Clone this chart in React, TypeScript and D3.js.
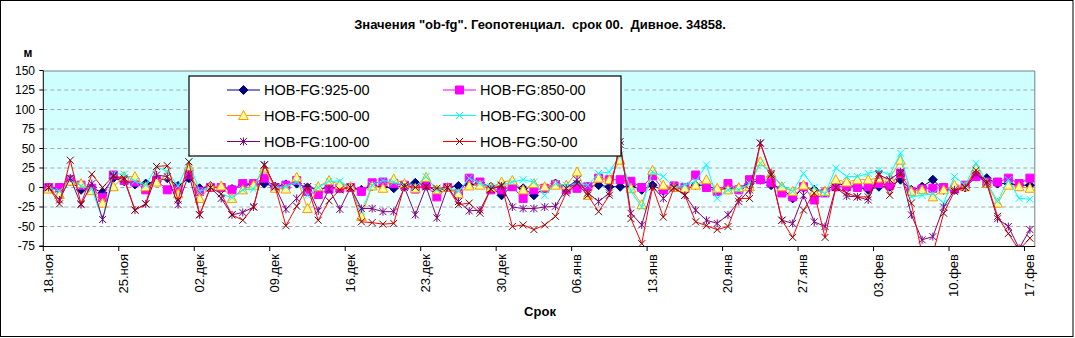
import React, { useEffect } from "react";
import * as d3 from "d3";

const title = 'Значения "ob-fg". Геопотенциал.  срок 00.  Дивное. 34858.';
const yUnit = "м";
const xTitle = "Срок";
const tickLabels = ["18.ноя", "25.ноя", "02.дек", "09.дек", "16.дек", "23.дек", "30.дек", "06.янв", "13.янв", "20.янв", "27.янв", "03.фев", "10.фев", "17.фев"];
const yTicks = [-75, -50, -25, 0, 25, 50, 75, 100, 125, 150];

const s925 = [0, -3, 8, -3, 0, -7, 12, 8, 4, 5, 8, 12, 2, 12, -1, 2, 0, -2, 3, 4, 5, 1, 4, 5, 0, -2, 0, -1, 0, -3, 2, 1, -1, 3, 6, 3, -5, 0, 2, 3, 6, 1, -10, 2, -1, -10, -1, 5, 1, 3, 1, 3, 1, 1, 2, -3, 3, -4, 0, -2, 3, 3, -3, -1, -1, 5, 10, 3, -1, -14, 0, -3, -5, 5, 3, 1, -3, 1, 1, 10, -3, 1, 10, -3, -3, 0, 14, 12, 5, 5, 3, 3];
const s850 = [0, 0, 10, 3, -1, -13, 16, 9, 7, -3, 9, -3, -3, 17, -5, 0, 0, -3, 5, 5, 12, 0, 3, 9, -5, -9, -2, -1, 0, -5, 6, 7, 5, 3, -2, 3, -12, 0, -8, 12, 7, -3, -3, 1, -14, -3, -1, 4, -3, -1, 1, 12, 10, 10, 8, 0, 15, -3, 2, 0, 16, 0, -5, 5, -3, 10, 10, 6, -7, -12, 1, -16, -7, 1, 1, 0, 1, 5, 3, 18, -5, -2, -1, 0, -2, 3, 14, 7, 7, 12, 5, 12];
const s500 = [-2, -9, 8, 5, -4, -20, 1, 14, 14, 1, 7, 16, -8, 27, -14, 1, 2, -14, -3, 3, 25, -1, -2, 13, -27, 1, 9, 4, 1, -37, 2, -1, 11, 5, -1, 13, -3, 0, -8, 2, 3, 0, 7, 9, -3, 5, 1, 3, 3, 20, -10, 12, 10, 35, -1, -22, 22, 3, 0, -1, 3, 10, -1, -3, 0, 1, 33, 18, 1, -5, 3, -5, -5, 10, 7, 10, 10, 12, 12, 35, -5, -3, -12, -3, 3, 1, 25, 5, -20, 3, 1, -1];
const s300 = [0, -5, 10, 2, -2, -41, 18, 17, 8, 3, 27, 20, 2, 33, -5, 0, -8, -13, -3, -2, 29, 0, 1, 7, -10, 0, 8, 8, 0, -31, 3, 9, 7, 3, 1, 14, -3, 0, -5, 12, 5, 1, 3, 7, 10, 7, -10, 5, 3, 5, 3, 18, 20, 42, -5, -25, 20, 14, 0, 3, 8, 29, -14, -3, -3, 5, 31, 18, 3, -5, 18, 0, -8, 25, 14, 14, 18, 22, 16, 44, -12, -10, -8, -20, 14, 3, 31, 7, -18, 10, -14, -15];
const s100 = [0, -16, 12, -22, 5, -41, 14, 10, -29, -21, 16, 14, -22, 17, -35, 0, -14, -35, -32, -25, 29, 1, -28, -14, 1, -30, -2, -28, 0, -27, -27, -31, -31, 0, -35, 1, -39, 0, -18, -30, -29, -2, 2, -25, -27, -27, -25, -24, -1, 10, -7, -18, -7, 55, -33, -48, 1, -14, 0, -10, -29, -42, -46, -35, -18, -3, 57, 18, -42, -46, -10, -44, -50, 0, -11, -12, -16, 16, 10, 20, -35, -67, -63, -25, -3, 0, 18, 5, -40, -50, -78, -54];
const s50 = [0, -21, 35, -21, 17, 0, 15, 12, -29, -21, 27, 28, -16, 33, -35, 0, -8, -35, -42, -25, 29, 1, -49, -24, 1, -42, -17, -3, 0, -44, -45, -47, -46, 3, 0, 1, -1, 0, -22, -20, -33, -2, 3, -50, -48, -54, -48, -37, -7, 5, -10, -31, -10, 59, -40, -72, 1, -38, 0, -10, -44, -49, -54, -50, -14, -14, 57, 16, -42, -64, -29, -7, -64, 0, -7, -12, -12, 18, -10, 18, -20, -85, -85, -33, -5, 0, 22, 7, -37, -59, -80, -65];

const seriesNames = ["HOB-FG:925-00", "HOB-FG:850-00", "HOB-FG:500-00", "HOB-FG:300-00", "HOB-FG:100-00", "HOB-FG:50-00"];
const seriesValues = [s925, s850, s500, s300, s100, s50];

type Style = { line: string; fill: string; stroke: string; kind: string };
const styles: Style[] = [
  { line: "#000080", fill: "#000080", stroke: "#000080", kind: "diamond" },
  { line: "#FF00FF", fill: "#FF00FF", stroke: "#FF00FF", kind: "square" },
  { line: "#FF9900", fill: "#FFFF99", stroke: "#FF9900", kind: "triangle" },
  { line: "#00FFFF", fill: "none", stroke: "#00FFFF", kind: "x" },
  { line: "#800080", fill: "none", stroke: "#800080", kind: "star" },
  { line: "#FF0000", fill: "none", stroke: "#800000", kind: "x" },
];

function markerPath(kind: string): string {
  switch (kind) {
    case "diamond":
      return "M0,-4.5L4.5,0L0,4.5L-4.5,0Z";
    case "square":
      return "M-4,-4H4V4H-4Z";
    case "triangle":
      return "M0,-5L4.8,4L-4.8,4Z";
    case "x":
      return "M-3.5,-3.5L3.5,3.5M-3.5,3.5L3.5,-3.5";
    case "star":
      return "M-3.5,-3.5L3.5,3.5M-3.5,3.5L3.5,-3.5M0,-4L0,4";
  }
  return "";
}

const W = 1075;
const H = 338;
const plotL = 43.3;
const plotR = 1035.3;
const plotT = 70.5;
const plotB = 246;

export default function App() {
  useEffect(() => {
    document.body.style.margin = "0";
  }, []);

  const n = s925.length;
  const idx = d3.range(n);
  const x = d3.scaleBand<number>().domain(idx).range([plotL, plotR]).padding(0);
  const bw = x.bandwidth();
  const cx = (i: number) => (x(i) as number) + bw / 2;
  const y = d3.scaleLinear().domain([-75, 150]).range([plotB, plotT]);

  const line = d3
    .line<number>()
    .x((_, i) => cx(i))
    .y((v) => y(v));

  const font = "Arial, 'Liberation Sans', sans-serif";

  const legendX = 189;
  const legendY = 76;
  const legendW = 432;
  const legendH = 80;
  const rowY = [90, 115.5, 141.5];
  const colX = [227, 443];

  return (
    <svg width={W} height={H} style={{ position: "absolute", left: 0, top: 0, display: "block", background: "#fff" }} fontFamily={font}>
      <defs>
        <linearGradient id="bg" x1="0" y1="0" x2="0" y2="1">
          <stop offset="0" stopColor="#CCFFFF" />
          <stop offset="0.3" stopColor="#D4FFFF" />
          <stop offset="1" stopColor="#FFFFFF" />
        </linearGradient>
        <clipPath id="plotclip">
          <rect x={plotL} y={plotT} width={plotR - plotL} height={plotB - plotT} />
        </clipPath>
      </defs>
      <rect x={0.5} y={0.5} width={1072.5} height={336} fill="#fff" stroke="#000" />
      <text x={540} y={29} textAnchor="middle" fontWeight="bold" fontSize={13} style={{ whiteSpace: "pre" }}>
        {title}
      </text>
      <text x={28} y={57} textAnchor="middle" fontWeight="bold" fontSize={12}>
        {yUnit}
      </text>

      <rect x={plotL} y={plotT} width={plotR - plotL} height={plotB - plotT} fill="url(#bg)" />
      {yTicks
        .filter((t) => t !== -75 && t !== 150)
        .map((t) => (
          <line key={"g" + t} x1={plotL} x2={plotR} y1={y(t)} y2={y(t)} stroke="#A8A8A8" strokeDasharray="4,3" />
        ))}
      <path d={`M${plotL},${plotT + 0.5}H${plotR - 0.5}V${plotB}`} fill="none" stroke="#808080" />

      <g clipPath="url(#plotclip)">
        {seriesValues.map((vals, si) => {
          const st = styles[si];
          const mp = markerPath(st.kind);
          return (
            <g key={"s" + si}>
              <path d={line(vals) || ""} fill="none" stroke={st.line} strokeWidth={1} />
              {vals.map((v, i) => (
                <path
                  key={i}
                  d={mp}
                  transform={`translate(${cx(i)},${y(v)})`}
                  fill={st.fill}
                  stroke={st.stroke}
                  strokeWidth={1}
                />
              ))}
            </g>
          );
        })}
      </g>

      <line x1={plotL} x2={plotL} y1={plotT} y2={plotB} stroke="#000" />
      <line x1={plotL - 4} x2={plotR} y1={plotB + 0.5} y2={plotB + 0.5} stroke="#000" />
      {yTicks.map((t) => (
        <g key={"yt" + t}>
          <line x1={plotL - 4} x2={plotL} y1={y(t)} y2={y(t)} stroke="#000" />
          <text x={35} y={y(t) + 4} textAnchor="end" fontSize={12}>
            {t}
          </text>
        </g>
      ))}
      {tickLabels.map((lab, k) => {
        const i = k * 7;
        const tx = x(i) as number;
        return (
          <g key={"xt" + k}>
            <line x1={tx} x2={tx} y1={plotB} y2={plotB + 5} stroke="#000" />
            <text
              transform={`translate(${cx(i) + 4},${plotB + 8}) rotate(-90)`}
              textAnchor="end"
              fontSize={13}
            >
              {lab}
            </text>
          </g>
        );
      })}
      <text x={540} y={316} textAnchor="middle" fontWeight="bold" fontSize={13}>
        {xTitle}
      </text>

      <rect x={legendX} y={legendY} width={legendW} height={legendH} fill="#fff" stroke="#000" strokeWidth={1.2} />
      {seriesNames.map((name, si) => {
        const col = si % 2;
        const row = Math.floor(si / 2);
        const lx = colX[col];
        const ly = rowY[row];
        const st = styles[si];
        return (
          <g key={"lg" + si}>
            <line x1={lx} x2={lx + 33} y1={ly} y2={ly} stroke={st.line} />
            <path d={markerPath(st.kind)} transform={`translate(${lx + 16.5},${ly})`} fill={st.fill} stroke={st.stroke} />
            <text x={lx + 37} y={ly + 5} fontSize={14.5}>
              {name}
            </text>
          </g>
        );
      })}
    </svg>
  );
}
